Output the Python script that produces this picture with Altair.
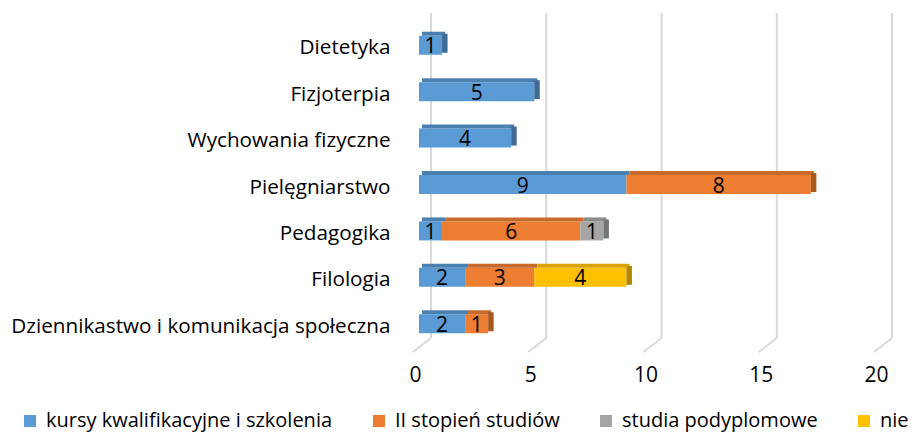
import altair as alt
import pandas as pd

categories = [
    "Dietetyka",
    "Fizjoterpia",
    "Wychowania fizyczne\u00a0",
    "Pielęgniarstwo",
    "Pedagogika",
    "Filologia",
    "Dziennikastwo i komunikacja społeczna",
]
series = [
    "kursy kwalifikacyjne i szkolenia",
    "II stopień studiów",
    "studia podyplomowe",
    "nie",
]
kursy = [1, 5, 4, 9, 1, 2, 2]
drugi_stopien = [0, 0, 0, 8, 6, 3, 1]
podyplomowe = [0, 0, 0, 0, 1, 0, 0]
nie = [0, 0, 0, 0, 0, 4, 0]
x_ticks = [0, 5, 10, 15, 20]

front_colors = ["#5B9BD5", "#ED7D31", "#A5A5A5", "#FFC000"]
top_colors = ["#4A7FB2", "#C86A2B", "#8C8C8C", "#D9A300"]
side_colors = ["#3E6A96", "#A8571F", "#757575", "#B38800"]

FONT = "Open Sans"
FS = 21
Y_FS = 20.7
LEG_FS = 20

rows, sides = [], []
for i, c in enumerate(categories):
    start = 0
    last = 0
    for s_i, vals in enumerate([kursy, drugi_stopien, podyplomowe, nie]):
        v = vals[i]
        if v > 0:
            rows.append(dict(cat=c, series=series[s_i], order=s_i, value=v,
                             x0=start, x1=start + v, mid=start + v / 2,
                             top=top_colors[s_i]))
            start += v
            last = s_i
    sides.append(dict(cat=c, total=start, side=side_colors[last]))

df = pd.DataFrame(rows)
side_df = pd.DataFrame(sides)
grid_df = pd.DataFrame({"t": x_ticks})

xscale = alt.Scale(domain=[0, 20], nice=False, zero=True)
yscale = alt.Scale(paddingInner=0, paddingOuter=0)

xaxis = alt.Axis(values=x_ticks, title=None, domain=False, ticks=False, grid=False,
                 labelFont=FONT, labelFontSize=FS, labelColor="#000",
                 labelPadding=17, labelOffset=-4, labelFlush=False)
yaxis = alt.Axis(title=None, domain=False, ticks=False, tickSize=0, grid=False,
                 labelFont=FONT, labelFontSize=Y_FS, labelColor="#000",
                 labelPadding=29, labelLimit=600, labelOffset=3)

grid = alt.Chart(grid_df).mark_rule(color="#D9D9D9", strokeWidth=2, xOffset=12).encode(
    x=alt.X("t:Q", scale=xscale, axis=xaxis),
    y=alt.value(-9),
    y2=alt.value(316),
)
floor = alt.Chart(grid_df).mark_rule(color="#D9D9D9", strokeWidth=2, xOffset=12, x2Offset=-6).encode(
    x=alt.X("t:Q", scale=xscale),
    x2="t:Q",
    y=alt.value(316),
    y2=alt.value(330),
)

front = alt.Chart(df).mark_bar(size=19).encode(
    x=alt.X("x0:Q", scale=xscale),
    x2="x1:Q",
    y=alt.Y("cat:N", sort=categories, scale=yscale, axis=yaxis),
    color=alt.Color(
        "series:N",
        scale=alt.Scale(domain=series, range=front_colors),
        legend=alt.Legend(
            orient="none", legendX=-399, legendY=389, direction="horizontal",
            columns=4, symbolType="square", symbolSize=144, symbolStrokeWidth=0,
            labelFont=FONT, labelFontSize=LEG_FS, labelColor="#000", labelLimit=600,
            columnPadding=36, labelOffset=6, title=None, padding=0,
        ),
    ),
)
top = alt.Chart(df).mark_bar(size=4, yOffset=-11.5, xOffset=3, x2Offset=3).encode(
    x=alt.X("x0:Q", scale=xscale),
    x2="x1:Q",
    y=alt.Y("cat:N", sort=categories),
    color=alt.Color("top:N", scale=None),
)
side = alt.Chart(side_df).mark_bar(size=19, yOffset=-2, x2Offset=5.5).encode(
    x=alt.X("total:Q", scale=xscale),
    x2="total:Q",
    y=alt.Y("cat:N", sort=categories),
    color=alt.Color("side:N", scale=None),
)
text = alt.Chart(df).mark_text(font=FONT, fontSize=FS, color="#000", baseline="middle", dy=2).encode(
    x=alt.X("mid:Q", scale=xscale),
    y=alt.Y("cat:N", sort=categories),
    text="value:Q",
)

chart = alt.layer(grid, floor, front, top, side, text).resolve_scale(
    color="independent"
).properties(
    width=461, height=325,
    autosize=alt.AutoSizeParams(type="none"),
    padding={"left": 411, "top": 14, "right": 30, "bottom": 85},
).configure_view(stroke=None)

chart.save("out.html", embed_options={"renderer": "svg", "actions": False})
